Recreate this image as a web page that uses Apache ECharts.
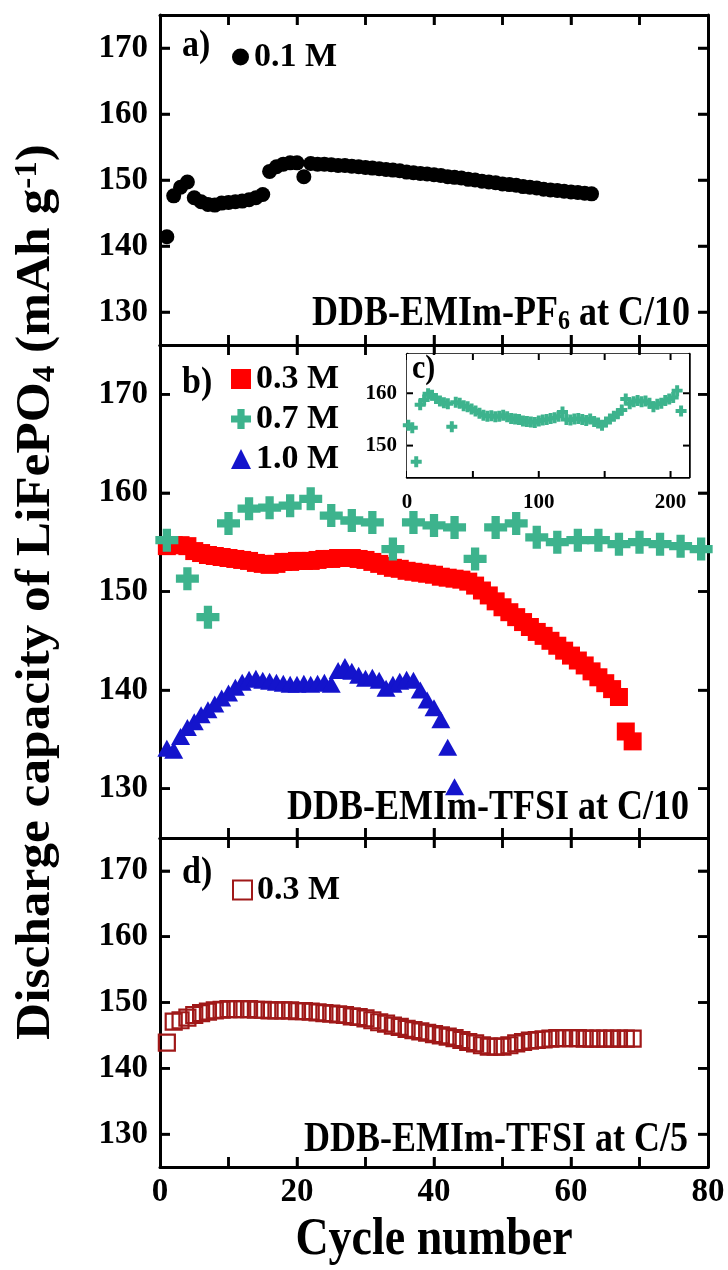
<!DOCTYPE html>
<html><head><meta charset="utf-8">
<script src="https://cdn.jsdelivr.net/npm/echarts@6/dist/echarts.min.js"></script>
<style>html,body{margin:0;padding:0;background:#fff}#c{width:728px;height:1270px}</style>
</head><body><div id="c"></div>
<script>
// ---------- data ----------
const xTickValues = [10, 20, 30, 40, 50, 60, 70];
const yTickValues = [130, 140, 150, 160, 170];
const insetXTickValues = [50, 100, 150, 200];
const insetYTickValues = [150, 160];

// a) DDB-EMIm-PF6, 0.1 M, C/10
const cyclesA = [1,2,3,4,5,6,7,8,9,10,11,12,13,14,15,16,17,18,19,20,21,22,23,24,25,26,27,28,29,30,31,32,33,34,35,36,37,38,39,40,41,42,43,44,45,46,47,48,49,50,51,52,53,54,55,56,57,58,59,60,61,62,63];
const capA = [141.4,147.6,148.9,149.7,147.3,146.7,146.3,146.2,146.5,146.6,146.7,146.8,147.0,147.3,147.8,151.3,152.0,152.4,152.6,152.6,150.5,152.5,152.4,152.4,152.3,152.2,152.2,152.1,152.0,151.9,151.8,151.7,151.6,151.5,151.4,151.2,151.1,151.0,150.9,150.8,150.7,150.5,150.4,150.3,150.1,150.0,149.8,149.7,149.6,149.4,149.3,149.2,149.0,148.9,148.8,148.6,148.5,148.4,148.3,148.2,148.1,148.0,147.9];

// b) DDB-EMIm-TFSI, C/10
const cyclesB03 = [1,2,3,4,5,6,7,8,9,10,11,12,13,14,15,16,17,18,19,20,21,22,23,24,25,26,27,28,29,30,31,32,33,34,35,36,37,38,39,40,41,42,43,44,45,46,47,48,49,50,51,52,53,54,55,56,57,58,59,60,61,62,63,64,65,66,67,68,69];
const capB03 = [154.6,154.7,154.7,154.6,154.1,153.9,153.7,153.6,153.5,153.4,153.3,153.2,153.1,152.9,152.8,152.7,152.8,153.0,153.0,153.1,153.1,153.1,153.2,153.3,153.3,153.4,153.4,153.4,153.3,153.2,153.0,152.8,152.6,152.4,152.3,152.1,152.0,151.9,151.8,151.7,151.5,151.4,151.3,151.2,151.0,150.6,150.1,149.6,149.0,148.4,147.9,147.4,146.9,146.4,145.9,145.5,145.0,144.5,144.0,143.5,143.0,142.5,141.9,141.3,140.7,140.1,139.3,135.8,134.8];

const cyclesB07 = [1,4,7,10,13,16,19,22,25,28,31,34,37,40,43,46,49,52,55,58,61,64,67,70,73,76,79];
const capB07 = [155.2,151.3,147.4,156.9,158.4,158.5,158.7,159.4,157.7,157.2,157.0,154.3,157.0,156.7,156.5,153.3,156.5,156.9,155.5,155.0,155.2,155.2,154.8,155.0,154.8,154.6,154.3];

const cyclesB10 = [1,2,3,4,5,6,7,8,9,10,11,12,13,14,15,16,17,18,19,20,21,22,23,24,25,26,27,28,29,30,31,32,33,34,35,36,37,38,39,40,41,42,43];
const capB10 = [134.1,133.9,135.3,136.2,136.8,137.5,138.0,138.6,139.2,139.7,140.3,140.8,141.1,141.2,141.0,140.9,140.8,140.7,140.6,140.6,140.7,140.6,140.7,140.8,140.6,142.0,142.4,141.9,141.5,141.2,141.3,141.0,140.2,140.6,140.9,141.1,141.0,140.0,139.0,138.2,137.0,134.2,130.2];

// c) inset, 0.7 M long-term
const cyclesC = [1,4,7,10,13,16,19,22,25,28,31,34,37,40,43,46,49,52,55,58,61,64,67,70,73,76,79,82,85,88,91,94,97,100,103,106,109,112,115,118,121,124,127,130,133,136,139,142,145,148,151,154,157,160,163,166,169,172,175,178,181,184,187,190,193,196,199,202,205,208];
const capC = [153.9,153.4,146.9,157.8,158.7,159.9,159.6,159.0,158.5,158.2,158.0,153.6,158.3,158.1,157.6,157.4,157.0,156.6,156.2,155.8,155.6,155.7,155.5,155.6,155.8,155.5,155.2,155.1,155.0,154.7,154.6,154.5,154.4,154.7,154.9,155.0,155.2,155.3,155.6,156.4,155.0,154.9,155.1,155.2,155.0,154.8,155.1,154.6,154.3,153.9,154.5,155.1,155.6,156.1,156.8,158.9,158.0,158.4,158.6,158.4,158.5,158.1,157.4,157.9,158.1,158.6,158.9,159.2,160.5,156.6];

// d) DDB-EMIm-TFSI, 0.3 M, C/5
const cyclesD = [1,2,3,4,5,6,7,8,9,10,11,12,13,14,15,16,17,18,19,20,21,22,23,24,25,26,27,28,29,30,31,32,33,34,35,36,37,38,39,40,41,42,43,44,45,46,47,48,49,50,51,52,53,54,55,56,57,58,59,60,61,62,63,64,65,66,67,68,69];
const capD = [143.9,147.1,147.3,147.7,148.1,148.4,148.6,148.8,148.9,149.0,149.0,149.0,149.0,148.9,148.9,148.8,148.8,148.8,148.8,148.7,148.7,148.6,148.5,148.4,148.3,148.2,148.1,147.9,147.8,147.6,147.3,147.0,146.8,146.5,146.3,146.0,145.8,145.6,145.4,145.2,145.0,144.8,144.6,144.3,144.0,143.8,143.5,143.3,143.3,143.3,143.5,143.8,144.0,144.2,144.3,144.4,144.5,144.6,144.6,144.6,144.6,144.5,144.5,144.5,144.5,144.5,144.5,144.5,144.5];

// ---------- axis ranges ----------
const X_MIN = 0, X_MAX = 80, Y_MIN = 125, Y_MAX = 175;
const IX_MIN = 0, IX_MAX = 214, IY_MIN = 144, IY_MAX = 167.5;

// ---------- styling ----------
const F = "'Liberation Serif','Times New Roman',serif";
const PLUS = 'path://M3.2,0H6.8V3.2H10V6.8H6.8V10H3.2V6.8H0V3.2H3.2Z';
const pairs = (xs, ys) => xs.map((x, i) => [x, ys[i]]);

function xAx(grid, pos, labels) {
  return { type: 'value', gridIndex: grid, position: pos, min: X_MIN, max: X_MAX, interval: 10,
    axisLine: { show: true, onZero: false, lineStyle: { color: '#000', width: 3 } },
    axisTick: { show: true, inside: true, length: 10, lineStyle: { color: '#000', width: 2.5 } },
    axisLabel: { show: labels, margin: 9, color: '#000', fontFamily: F, fontWeight: 'bold', fontSize: 33,
      formatter: v => (v % 20 === 0 ? String(v) : '') },
    splitLine: { show: false } };
}
function yAx(grid, pos, labels) {
  return { type: 'value', gridIndex: grid, position: pos, min: Y_MIN, max: Y_MAX,
    axisLine: { show: true, onZero: false, lineStyle: { color: '#000', width: 3 } },
    axisTick: { show: true, inside: true, length: 10, customValues: yTickValues, lineStyle: { color: '#000', width: 2.5 } },
    axisLabel: { show: labels, customValues: yTickValues, margin: 12, color: '#000', fontFamily: F, fontWeight: 'bold', fontSize: 33 },
    splitLine: { show: false } };
}
function xIn(pos, labels) {
  return { type: 'value', gridIndex: 3, position: pos, min: IX_MIN, max: IX_MAX, interval: 50,
    axisLine: { show: true, onZero: false, lineStyle: { color: '#000', width: 2.5 } },
    axisTick: { show: true, inside: true, length: 6, lineStyle: { color: '#000', width: 2 } },
    axisLabel: { show: labels, margin: 15, color: '#000', fontFamily: F, fontWeight: 'bold', fontSize: 21,
      formatter: v => (v % 100 === 0 ? String(v) : '') },
    splitLine: { show: false } };
}
function yIn(pos, labels) {
  return { type: 'value', gridIndex: 3, position: pos, min: IY_MIN, max: IY_MAX,
    axisLine: { show: true, onZero: false, lineStyle: { color: '#000', width: 2.5 } },
    axisTick: { show: true, inside: true, length: 6, customValues: insetYTickValues, lineStyle: { color: '#000', width: 2 } },
    axisLabel: { show: labels, customValues: insetYTickValues, margin: 10, color: '#000', fontFamily: F, fontWeight: 'bold', fontSize: 21 },
    splitLine: { show: false } };
}
// inward tick marks, also placed through the axes' own scales
function tickSeries(axisIdx, data, size, offset) {
  return { type: 'scatter', xAxisIndex: axisIdx, yAxisIndex: axisIdx, data: data, symbol: 'rect',
    symbolSize: size, symbolOffset: offset, clip: false, silent: true, z: 20,
    itemStyle: { color: '#000', opacity: 1 }, emphasis: { disabled: true } };
}
const tickSeriesList = [];
[0, 2, 4].forEach(ai => {
  tickSeriesList.push(tickSeries(ai, xTickValues.map(v => [v, Y_MIN]), [2.5, 10], [0, -5]));
  tickSeriesList.push(tickSeries(ai, xTickValues.map(v => [v, Y_MAX]), [2.5, 10], [0, 5]));
  tickSeriesList.push(tickSeries(ai, yTickValues.map(v => [X_MIN, v]), [10, 2.5], [5, 0]));
  tickSeriesList.push(tickSeries(ai, yTickValues.map(v => [X_MAX, v]), [10, 2.5], [-5, 0]));
});
tickSeriesList.push(tickSeries(6, insetXTickValues.map(v => [v, IY_MIN]), [2, 6], [0, -3]));
tickSeriesList.push(tickSeries(6, insetXTickValues.map(v => [v, IY_MAX]), [2, 6], [0, 3]));
tickSeriesList.push(tickSeries(6, insetYTickValues.map(v => [IX_MIN, v]), [6, 2], [3, 0]));
tickSeriesList.push(tickSeries(6, insetYTickValues.map(v => [IX_MAX, v]), [6, 2], [-3, 0]));

function legendText() { return { color: '#000', fontFamily: F, fontWeight: 'bold', fontSize: 34 }; }
function richSub() { return { fontFamily: F, fontWeight: 'bold', fill: '#000' }; }
function label(x, y, text, size, align, sy, rich) {
  return { type: 'text', x: x, y: y, z: 100, scaleY: sy || 1,
    style: { text: text, fill: '#000', fontFamily: F, fontWeight: 'bold', fontSize: size,
      align: align || 'left', verticalAlign: 'middle', rich: rich || {} } };
}

const chart = echarts.init(document.getElementById('c'));
chart.setOption({
  animation: false,
  backgroundColor: '#fff',
  grid: [
    { left: 160, top: 15, width: 548, height: 330 },
    { left: 160, top: 345, width: 548, height: 493 },
    { left: 160, top: 838, width: 548, height: 329 },
    { left: 407, top: 354, width: 282, height: 123, show: true, backgroundColor: '#fff', borderWidth: 0, z: 5 }
  ],
  xAxis: [xAx(0, 'bottom', false), xAx(0, 'top', false), xAx(1, 'bottom', false), xAx(1, 'top', false),
          xAx(2, 'bottom', true), xAx(2, 'top', false), xIn('bottom', true), xIn('top', false)],
  yAxis: [yAx(0, 'left', true), yAx(0, 'right', false), yAx(1, 'left', true), yAx(1, 'right', false),
          yAx(2, 'left', true), yAx(2, 'right', false), yIn('left', true), yIn('right', false)],
  legend: [
    { data: ['0.1 M'], left: 232, top: 40, orient: 'vertical', padding: 0, itemWidth: 17, itemHeight: 17, selectedMode: false, textStyle: legendText() },
    { data: ['0.3 M', '0.7 M', '1.0 M'], left: 231, top: 362, orient: 'vertical', padding: 0, itemGap: 6, itemWidth: 20, itemHeight: 20, selectedMode: false, textStyle: legendText() },
    { data: ['0.3 M '], left: 232, top: 873, orient: 'vertical', padding: 0, itemWidth: 19, itemHeight: 19, selectedMode: false, textStyle: legendText() }
  ],
  series: [
    { type: 'scatter', name: '0.1 M', xAxisIndex: 0, yAxisIndex: 0, data: pairs(cyclesA, capA),
      symbol: 'circle', symbolSize: 15, itemStyle: { color: '#000', opacity: 1 } },
    { type: 'scatter', name: '0.3 M', xAxisIndex: 2, yAxisIndex: 2, data: pairs(cyclesB03, capB03),
      symbol: 'rect', symbolSize: 18, itemStyle: { color: '#FF0000', opacity: 1 } },
    { type: 'scatter', name: '0.7 M', xAxisIndex: 2, yAxisIndex: 2, data: pairs(cyclesB07, capB07),
      symbol: PLUS, symbolSize: 23, itemStyle: { color: '#3DB38D', opacity: 1 } },
    { type: 'scatter', name: '1.0 M', xAxisIndex: 2, yAxisIndex: 2, data: pairs(cyclesB10, capB10),
      symbol: 'triangle', symbolSize: [19, 17], itemStyle: { color: '#1414CC', opacity: 1 } },
    { type: 'scatter', name: '0.3 M ', xAxisIndex: 4, yAxisIndex: 4, data: pairs(cyclesD, capD),
      symbol: 'rect', symbolSize: 16, itemStyle: { color: 'rgba(0,0,0,0)', borderColor: '#A01818', borderWidth: 2.2, opacity: 1 } },
    { type: 'scatter', name: 'inset', xAxisIndex: 6, yAxisIndex: 6, data: pairs(cyclesC, capC), z: 10,
      symbol: PLUS, symbolSize: 11, itemStyle: { color: '#3DB38D', opacity: 1 } }
  ].concat(tickSeriesList),
  graphic: [
    label(182, 46, 'a)', 34, 'left', 1.1),
    label(182, 383, 'b)', 34, 'left', 1.1),
    label(412, 369, 'c)', 30, 'left', 1.1),
    label(182, 873, 'd)', 34, 'left', 1.1),
    label(690, 314, 'DDB-EMIm-PF{s|6} at C/10', 36, 'right', 1.15,
      { s: Object.assign({ fontSize: 24, verticalAlign: 'bottom', padding: [14, 0, 0, 0] }, richSub()) }),
    label(689, 808, 'DDB-EMIm-TFSI at C/10', 36, 'right', 1.15),
    label(688, 1140, 'DDB-EMIm-TFSI at C/5', 36, 'right', 1.15),
    label(434, 1240, 'Cycle number', 46, 'center', 1.15),
    { type: 'text', x: 37, y: 592, rotation: Math.PI / 2, scaleX: 1.07, z: 100,
      style: { text: 'Discharge capacity of LiFePO{s|4} (mAh g{p|-1})', fill: '#000', fontFamily: F, fontWeight: 'bold', fontSize: 48,
        align: 'center', verticalAlign: 'middle',
        rich: { s: Object.assign({ fontSize: 31, verticalAlign: 'bottom', padding: [18, 0, 0, 0] }, richSub()),
                p: Object.assign({ fontSize: 31, verticalAlign: 'top', padding: [0, 0, 18, 0] }, richSub()) } } }
  ]
});
</script>
</body></html>
